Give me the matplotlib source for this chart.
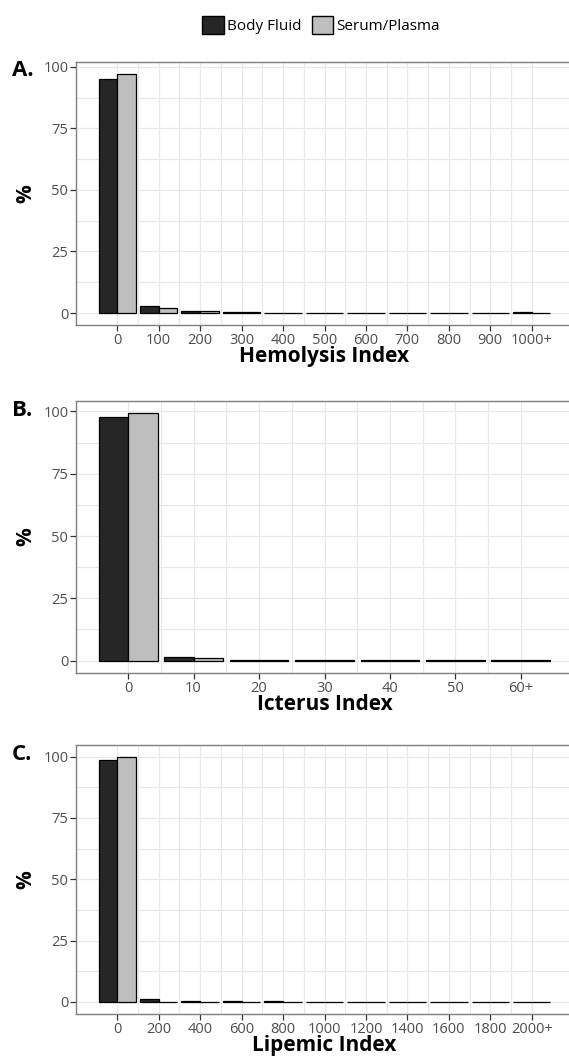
import numpy as np
import matplotlib
matplotlib.use('Agg')
from matplotlib import pyplot as plt
from matplotlib.patches import Patch

plt.rcParams['font.family'] = ['Open Sans', 'DejaVu Sans']

# Hemolysis index (%)
hem_labels = ['0', '100', '200', '300', '400', '500', '600', '700', '800', '900', '1000+']
hem_body = [95.2, 2.9, 0.9, 0.4, 0.2, 0.2, 0.1, 0.2, 0.1, 0.2, 0.3]
hem_serum = [97.1, 2.0, 0.7, 0.3, 0.2, 0.2, 0.2, 0.2, 0.1, 0.1, 0.2]

# Icterus index (%)
ict_labels = ['0', '10', '20', '30', '40', '50', '60+']
ict_body = [97.7, 1.6, 0.4, 0.4, 0.1, 0.1, 0.1]
ict_serum = [99.2, 0.9, 0.2, 0.2, 0.1, 0.1, 0.1]

# Lipemic index (%)
lip_labels = ['0', '200', '400', '600', '800', '1000', '1200', '1400', '1600', '1800', '2000+']
lip_body = [98.7, 1.2, 0.5, 0.2, 0.2, 0.1, 0.1, 0.1, 0.1, 0.1, 0.1]
lip_serum = [99.8, 0.1, 0.1, 0.1, 0.1, 0.1, 0.1, 0.1, 0.1, 0.1, 0.1]

BODY = '#262626'
SERUM = '#bebebe'
W, H = 569, 1059

fig = plt.figure(figsize=(W / 100, H / 100), dpi=100)


def panel(top, bottom, labels, body, serum, letter, xtitle):
    ax = fig.add_axes([76 / W, 1 - bottom / H, 497 / W, (bottom - top) / H])
    n = len(labels)
    x = np.arange(n)
    w = 0.45
    ax.bar(x - w / 2, body, w, color=BODY, edgecolor='black', linewidth=0.9, zorder=3)
    ax.bar(x + w / 2, serum, w, color=SERUM, edgecolor='black', linewidth=0.9, zorder=3)

    ymax = max(max(body), max(serum))
    ax.set_ylim(-0.05 * ymax, 1.05 * ymax)
    span = (n - 1) + 0.9
    ax.set_xlim(-0.45 - 0.05 * span, n - 1 + 0.45 + 0.05 * span)

    ax.set_xticks(x)
    ax.set_xticklabels(labels)
    ax.set_xticks(x[:-1] + 0.5, minor=True)
    ax.set_yticks([0, 25, 50, 75, 100])
    ax.set_yticks([12.5, 37.5, 62.5, 87.5], minor=True)
    ax.tick_params(which='major', length=4, width=0.9, color='#333333',
                   labelsize=10.5, labelcolor='#4d4d4d', pad=1.5)
    ax.tick_params(which='minor', length=0)
    ax.grid(which='both', color='#e8e8e8', linewidth=0.9, zorder=0)
    ax.set_axisbelow(True)
    for s in ['left', 'bottom', 'top']:
        ax.spines[s].set_color('#7f7f7f')
        ax.spines[s].set_linewidth(1.0)
    ax.spines['right'].set_visible(False)

    ax.set_xlabel(xtitle, fontsize=15, fontweight='bold', labelpad=-1)
    ax.set_ylabel('%', fontsize=15, fontweight='bold', labelpad=5)
    ax.text(12 / W, 1 - (top + 9) / H, letter, transform=fig.transFigure,
            fontsize=16, fontweight='bold', ha='left', va='center')
    return ax


panel(62, 325, hem_labels, hem_body, hem_serum, 'A.', 'Hemolysis Index')
panel(401, 673, ict_labels, ict_body, ict_serum, 'B.', 'Icterus Index')
panel(745, 1014, lip_labels, lip_body, lip_serum, 'C.', 'Lipemic Index')

handles = [Patch(facecolor=BODY, edgecolor='black', label='Body Fluid'),
           Patch(facecolor=SERUM, edgecolor='black', label='Serum/Plasma')]
fig.legend(handles=handles, loc='center', bbox_to_anchor=(321 / W, 1 - 25 / H),
           ncol=2, frameon=False, fontsize=11, handlelength=1.4, handleheight=1.4,
           handletextpad=0.2, columnspacing=0.7)

fig.savefig('out.png', dpi=100)
